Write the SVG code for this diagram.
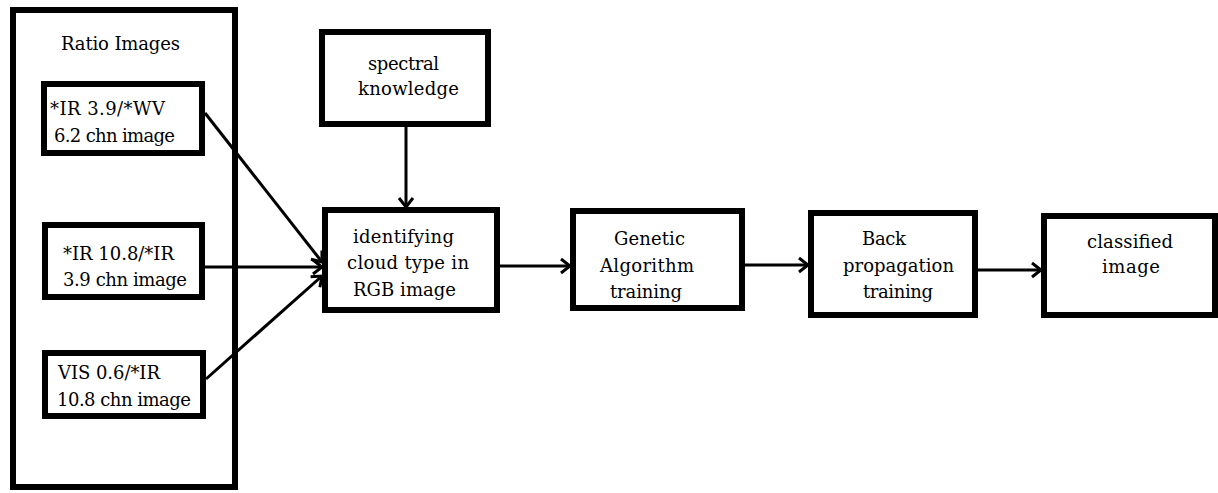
<svg xmlns="http://www.w3.org/2000/svg" width="1218" height="493" viewBox="0 0 1218 493">
<style>
.box{fill:#fff;stroke:#000;stroke-width:6}
.t{font-family:"DejaVu Serif","Liberation Serif",serif;font-size:18px;fill:#000}
.c{fill:none;stroke:#000;stroke-width:3}
</style>
<defs>
<marker id="arr" markerUnits="userSpaceOnUse" markerWidth="20" markerHeight="20" viewBox="-12 -10 14 20" refX="0" refY="0" orient="auto">
<path d="M-9,-7 L0,0 L-9,7" fill="none" stroke="#000" stroke-width="3"/>
</marker>
</defs>
<rect width="1218" height="493" fill="#fff"/>
<g id="ratio-images">
<rect class="box" x="13" y="10" width="222" height="477"/>
<text class="t" x="61" y="50" textLength="119">Ratio Images</text>
</g>
<g id="ir39-wv62">
<rect class="box" x="44" y="84" width="158" height="69"/>
<text class="t" x="50" y="115" textLength="115">*IR 3.9/*WV</text>
<text class="t" x="54" y="142" textLength="121">6.2 chn image</text>
</g>
<g id="ir108-ir39">
<rect class="box" x="45" y="225" width="157" height="72"/>
<text class="t" x="63" y="260" textLength="111">*IR 10.8/*IR</text>
<text class="t" x="63" y="286" textLength="124">3.9 chn image</text>
</g>
<g id="vis06-ir108">
<rect class="box" x="45" y="353" width="158" height="63"/>
<text class="t" x="58" y="379" textLength="102">VIS 0.6/*IR</text>
<text class="t" x="57" y="406" textLength="134">10.8 chn image</text>
</g>
<g id="spectral-knowledge">
<rect class="box" x="322" y="32" width="166" height="92"/>
<text class="t" x="368" y="70" textLength="71">spectral</text>
<text class="t" x="358" y="95" textLength="101">knowledge</text>
</g>
<g id="identifying">
<rect class="box" x="325" y="210" width="172" height="100"/>
<text class="t" x="353" y="243" textLength="101">identifying</text>
<text class="t" x="347" y="269" textLength="122">cloud type in</text>
<text class="t" x="353" y="296" textLength="103">RGB image</text>
</g>
<g id="genetic">
<rect class="box" x="573" y="211" width="169" height="97"/>
<text class="t" x="614" y="245" textLength="71">Genetic</text>
<text class="t" x="600" y="272" textLength="94">Algorithm</text>
<text class="t" x="610" y="298" textLength="72">training</text>
</g>
<g id="backprop">
<rect class="box" x="811" y="213" width="164" height="102"/>
<text class="t" x="862" y="245" textLength="44">Back</text>
<text class="t" x="843" y="272" textLength="111">propagation</text>
<text class="t" x="863" y="298" textLength="70">training</text>
</g>
<g id="classified">
<rect class="box" x="1044" y="216" width="171" height="99"/>
<text class="t" x="1087" y="248" textLength="86">classified</text>
<text class="t" x="1102" y="273" textLength="58">image</text>
</g>
<g id="connectors">
<path class="c" d="M406,127 L406,207" marker-end="url(#arr)"/>
<path class="c" d="M205,113 L322,262" marker-end="url(#arr)"/>
<path class="c" d="M205,267 L322,267" marker-end="url(#arr)"/>
<path class="c" d="M206,379 L322,276" marker-end="url(#arr)"/>
<path class="c" d="M500,266 L570,266" marker-end="url(#arr)"/>
<path class="c" d="M745,265 L808,265" marker-end="url(#arr)"/>
<path class="c" d="M978,270 L1041,270" marker-end="url(#arr)"/>
</g>
</svg>
